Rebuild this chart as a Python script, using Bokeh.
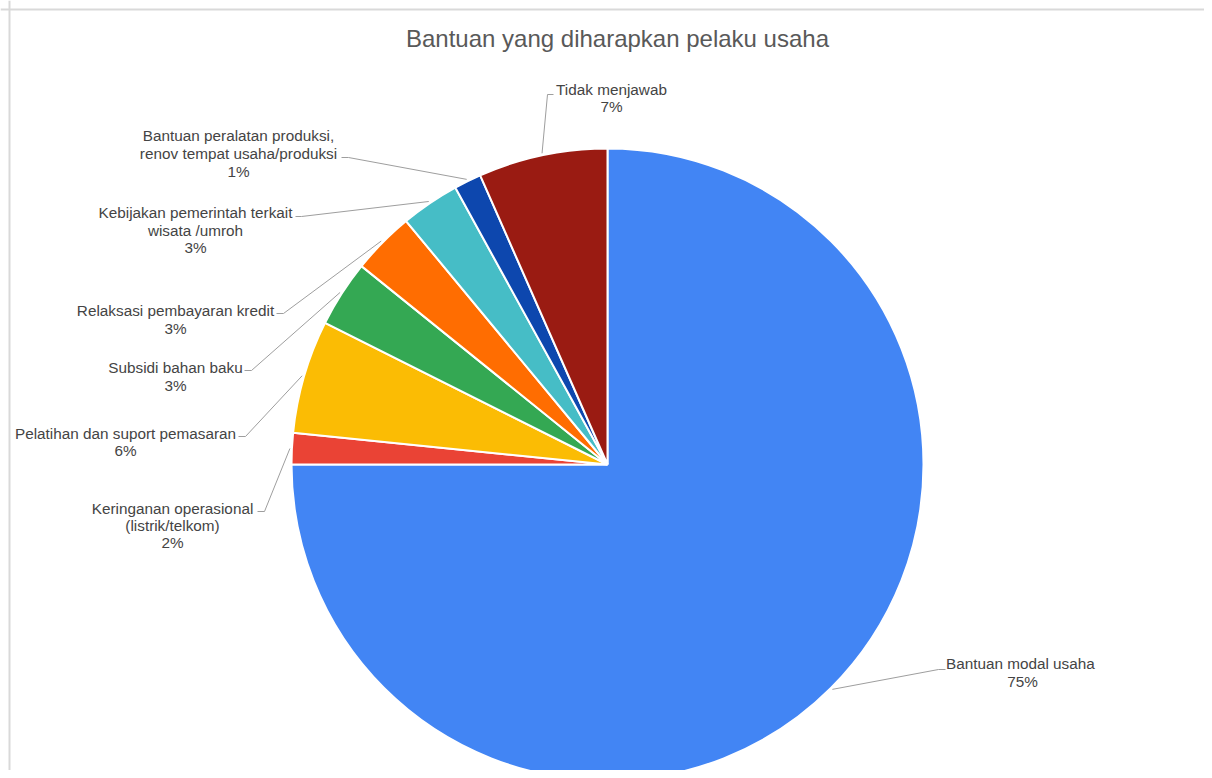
import math
from bokeh.plotting import figure
from bokeh.models import Range1d, Span, ColumnDataSource
from bokeh.core.properties import value
from bokeh.embed import file_html
from bokeh.resources import INLINE

# ---- data ----
title_text = "Bantuan yang diharapkan pelaku usaha"
categories = [
    "Bantuan modal usaha",
    "Keringanan operasional (listrik/telkom)",
    "Pelatihan dan suport pemasaran",
    "Subsidi bahan baku",
    "Relaksasi pembayaran kredit",
    "Kebijakan pemerintah terkait wisata /umroh",
    "Bantuan peralatan produksi, renov tempat usaha/produksi",
    "Tidak menjawab",
]
label_lines = [
    ["Bantuan  modal usaha"],
    ["Keringanan operasional", "(listrik/telkom)"],
    ["Pelatihan dan suport pemasaran"],
    ["Subsidi bahan baku"],
    ["Relaksasi pembayaran kredit"],
    ["Kebijakan pemerintah terkait", "wisata /umroh"],
    ["Bantuan peralatan produksi,", "renov tempat usaha/produksi"],
    ["Tidak menjawab"],
]
shares = [75.0, 1.6, 5.8, 3.4, 3.2, 3.0, 1.4, 6.6]
colors = ["#4285F4", "#EA4335", "#FBBC04", "#34A853", "#FF6D01",
          "#46BDC6", "#0D47AE", "#9A1B12"]

# ---- layout (screen pixels) ----
W, H = 1204, 770
def sy(py):
    return H - py

CX, CY, R = 607, sy(464), 316
# label block: (center x, first line center y, line gap)
label_pos = [
    (1022, 663, 18),
    (172, 508, 17),
    (125, 433, 17),
    (175, 367, 18),
    (175, 310, 18),
    (195, 212, 17.5),
    (238, 135, 18),
    (611, 89, 17),
]
# leader elbow and hook end (screen px)
leader_pts = [
    ((938, 669), (945, 669)),
    ((264, 511), (257, 511)),
    ((245, 436), (238, 436)),
    ((251, 370), (244, 370)),
    ((283, 313), (276, 313)),
    ((301, 216), (295, 216)),
    ((348, 157), (341, 157)),
    ((547, 94), (553, 94)),
]

p = figure(width=W, height=H, output_backend="svg", toolbar_location=None,
           x_range=Range1d(0, W), y_range=Range1d(0, H),
           x_axis_type=None, y_axis_type=None, min_border=0)
p.grid.visible = False
p.outline_line_color = None
p.background_fill_color = "white"
p.border_fill_color = "white"

# border (top and left)
p.add_layout(Span(location=sy(9), dimension="width", line_color="#d9d9d9", line_width=2))
p.add_layout(Span(location=9, dimension="height", line_color="#d9d9d9", line_width=2))

# wedges
total = sum(shares)
starts, ends, mids = [], [], []
cum = 0.0
for v in shares:
    a0 = math.pi / 2 - 2 * math.pi * cum / total
    a1 = math.pi / 2 - 2 * math.pi * (cum + v) / total
    starts.append(a0)
    ends.append(a1)
    mids.append((a0 + a1) / 2)
    cum += v

src = ColumnDataSource(dict(x=[CX] * len(shares), y=[CY] * len(shares),
                            start=starts, end=ends, color=colors))
p.wedge(x="x", y="y", radius=R, start_angle="start", end_angle="end",
        direction="clock", fill_color="color", line_color="white",
        line_width=2, source=src)

# leader lines
lxs, lys = [], []
for m, (elb, hook) in zip(mids, leader_pts):
    px = CX + (R + 2) * math.cos(m)
    py = CY + (R + 2) * math.sin(m)
    lxs.append([px, elb[0], hook[0]])
    lys.append([py, sy(elb[1]), sy(hook[1])])
p.multi_line(xs=lxs, ys=lys, line_color="#9e9e9e", line_width=1)

# labels
tx, ty, tt = [], [], []
for lines, v, (lx, ly, gap) in zip(label_lines, shares, label_pos):
    pct = f"{round(v / total * 100)}%"
    for i, s in enumerate(lines + [pct]):
        tx.append(lx)
        ty.append(sy(ly + i * gap))
        tt.append(s)
p.text(x=tx, y=ty, text=tt, text_align="center", text_baseline="middle",
       text_font=value("Liberation Sans"), text_font_size="15.3px",
       text_color="#444444")

# title
p.text(x=[617], y=[sy(38)], text=[title_text], text_align="center",
       text_baseline="middle", text_font=value("Liberation Sans"),
       text_font_size="24px", text_color="#595959")

open("out.html", "w").write(file_html(p, INLINE))
